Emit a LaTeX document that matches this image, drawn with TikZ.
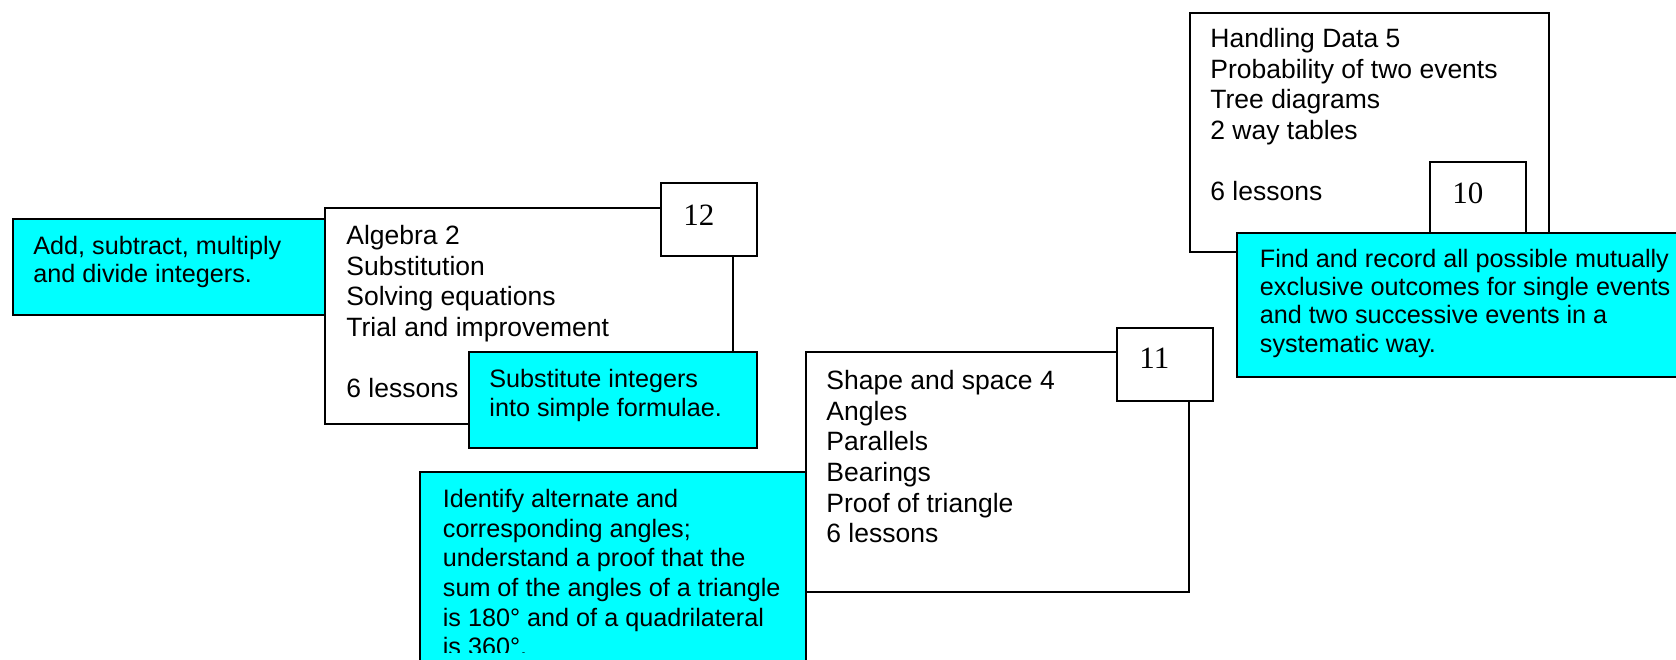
\documentclass[tikz,border=0pt]{standalone}
\usepackage{fontspec}
\setmainfont{Liberation Sans}
\newfontfamily\numfont{Liberation Serif}
\definecolor{aimcyan}{RGB}{0,255,255}
\newcommand{\firstline}{\rule{0pt}{10pt}}% fixed height of the first line

\begin{document}
\begin{tikzpicture}[
	x=0.5pt, y=-0.5pt,
	topic/.style={
		rectangle,
		draw,
		line width=1pt,
		fill=white,
		anchor=north west,
		inner sep=0pt,
		outer sep=0pt,
	},
	aim/.style={% Cyan boxes with the objectives
		topic,
		fill=aimcyan,
	},
	numbox/.style={
		topic,
		minimum width=48pt,
		minimum height=36.5pt,
	},
	topictext/.style={
		anchor=north west,
		inner sep=0pt,
		align=left,
		font=\fontsize{13.25}{15.35}\selectfont,
	},
	aimtext/.style={
		topictext,
		font=\fontsize{12.6}{#1}\selectfont,
	},
	aimtext/.default=14.5pt,
	numtext/.style={
		anchor=base west,
		inner sep=0pt,
		font=\numfont\fontsize{15.5}{18}\selectfont,
	},
]

\useasboundingbox (0,0) rectangle (1676,659);

% Algebra 2
\node[topic, minimum width=204pt, minimum height=108pt] (alg) at (325,208) {};
\node[topictext] (algtext) at ([shift={(21,16)}]alg.north west) {\firstline Algebra 2\\Substitution\\Solving equations\\Trial and improvement\\[15.35pt]6 lessons};
\node[numbox] (num12) at (661,183) {};
\node[numtext] (t12) at ([shift={(22,42)}]num12.north west) {12};
\node[aim, minimum width=156pt, minimum height=48pt] (add) at (13,219) {};
\node[aimtext=14pt] (addtext) at ([shift={(20,15)}]add.north west) {\firstline Add, subtract, multiply\\and divide integers.};
\node[aim, minimum width=144pt, minimum height=48pt] (subst) at (469,352) {};
\node[aimtext=14.5pt] (substtext) at ([shift={(20,15)}]subst.north west) {\firstline Substitute integers\\into simple formulae.};

% Shape and space 4
\node[topic, minimum width=191.5pt, minimum height=120pt] (shape) at (806,352) {};
\node[topictext] (shapetext) at ([shift={(20,17)}]shape.north west) {\firstline Shape and space 4\\Angles\\Parallels\\Bearings\\Proof of triangle\\6 lessons};
\node[numbox] (num11) at (1117,328) {};
\node[numtext] (t11) at ([shift={(22,40)}]num11.north west) {11};
\node[aim, minimum width=193pt, minimum height=125pt] (ident) at (420,472) {};
\begin{scope}
	\clip (420,472) rectangle (806,652);
	\node[aimtext=14.8pt] (identtext) at ([shift={(22.5,15.3)}]ident.north west) {\firstline Identify alternate and\\corresponding angles;\\understand a proof that the\\sum of the angles of a triangle\\is 180° and of a quadrilateral\\is 360°.};
\end{scope}

% Handling Data 5
\node[topic, minimum width=179.5pt, minimum height=119.5pt] (hand) at (1190,13) {};
\node[topictext] (handtext) at ([shift={(20,14)}]hand.north west) {\firstline Handling Data 5\\Probability of two events\\Tree diagrams\\2 way tables\\[15.35pt]6 lessons};
\node[numbox] (num10) at (1430,162) {};
\node[numtext] (t10) at ([shift={(22,41)}]num10.north west) {10};
\node[aim, minimum width=240pt, minimum height=72pt] (find) at (1237,233) {};
\node[aimtext=14.15pt] (findtext) at ([shift={(22.5,13.7)}]find.north west) {\firstline Find and record all possible mutually\\exclusive outcomes for single events\\and two successive events in a\\systematic way.};

\end{tikzpicture}
\end{document}
